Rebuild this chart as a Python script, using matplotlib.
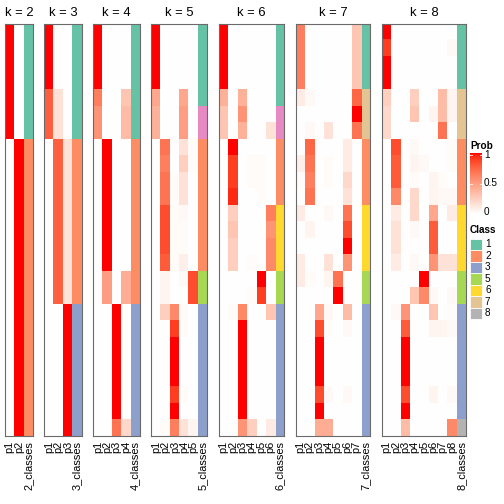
import numpy as np
import matplotlib
matplotlib.use("Agg")
import matplotlib.pyplot as plt
from matplotlib.patches import Rectangle

plt.rcParams['font.family'] = ['Liberation Sans', 'DejaVu Sans']

# ---------------- data ----------------
k_values = [2, 3, 4, 5, 6, 7, 8]

prob_k2 = [[1, 0]] * 7 + [[0, 1]] * 18
class_k2 = [1] * 7 + [2] * 18

prob_k3 = ([[1, 0, 0]] * 4 + [[0.78, 0.15, 0]] * 3 +
           [[0, 0.78, 0.15]] * 10 + [[0, 0, 1]] * 8)
class_k3 = [1] * 7 + [2] * 10 + [3] * 8

prob_k4 = ([[1, 0, 0, 0]] * 4 + [[0.65, 0, 0, 0.3]] + [[0.55, 0, 0, 0.35]] * 2 +
           [[0, 1, 0, 0]] * 8 + [[0, 0.5, 0, 0.42]] * 2 +
           [[0, 0, 1, 0]] * 7 + [[0, 0, 0.7, 0.2]])
class_k4 = [1] * 7 + [2] * 10 + [3] * 8

prob_k5 = [
    [1, 0, 0, 0, 0], [1, 0, 0, 0, 0], [1, 0, 0, 0, 0], [1, 0, 0, 0, 0],
    [0.45, 0, 0, 0.45, 0], [0.4, 0, 0, 0.5, 0], [0.4, 0, 0, 0.5, 0],
    [0, 0.7, 0, 0.15, 0.02], [0, 0.65, 0, 0.25, 0.02], [0, 0.7, 0.02, 0.15, 0],
    [0, 0.7, 0.02, 0.15, 0], [0, 0.85, 0.02, 0.03, 0], [0, 0.85, 0.02, 0.02, 0],
    [0, 0.85, 0.02, 0.02, 0], [0, 0.8, 0.02, 0.08, 0],
    [0, 0.05, 0, 0.03, 0.85], [0, 0.05, 0, 0, 0.85],
    [0, 0.25, 0.6, 0.02, 0], [0, 0, 0.9, 0.02, 0], [0, 0, 1, 0, 0],
    [0, 0, 1, 0, 0], [0, 0, 1, 0, 0], [0, 0, 0.9, 0.02, 0], [0, 0, 1, 0, 0],
    [0, 0.02, 0.65, 0.15, 0.05],
]
class_k5 = [1] * 5 + [4] * 2 + [2] * 8 + [5] * 2 + [3] * 8

prob_k6 = [
    [1, 0, 0, 0, 0, 0], [1, 0, 0, 0, 0, 0], [1, 0, 0, 0, 0, 0], [1, 0, 0, 0, 0, 0],
    [0.4, 0, 0.4, 0, 0, 0], [0.3, 0, 0.55, 0, 0, 0], [0.3, 0, 0.4, 0, 0, 0.15],
    [0, 1, 0, 0, 0, 0], [0, 0.9, 0, 0.02, 0.02, 0], [0, 0.9, 0, 0.02, 0.02, 0],
    [0, 0.95, 0, 0, 0.02, 0],
    [0, 0.25, 0, 0, 0, 0.65], [0, 0.3, 0, 0, 0, 0.55], [0, 0.25, 0, 0, 0, 0.6],
    [0, 0.25, 0, 0.02, 0, 0.6],
    [0, 0, 0, 0, 1, 0], [0, 0, 0, 0.02, 0.9, 0],
    [0, 0.02, 0.6, 0, 0, 0.3], [0, 0, 1, 0, 0, 0], [0, 0, 1, 0, 0, 0],
    [0, 0, 1, 0, 0, 0], [0, 0, 1, 0, 0, 0], [0, 0, 1, 0, 0, 0], [0, 0, 1, 0, 0, 0],
    [0, 0, 0.55, 0.25, 0, 0.1],
]
class_k6 = [1] * 5 + [4] * 2 + [2] * 4 + [6] * 4 + [5] * 2 + [3] * 8

prob_k7 = [
    [0.65, 0, 0, 0, 0, 0, 0.3], [0.65, 0, 0, 0, 0, 0, 0.3],
    [0.65, 0, 0, 0, 0, 0, 0.3], [0.65, 0, 0, 0, 0, 0, 0.3],
    [0.1, 0.03, 0, 0, 0, 0, 0.75], [0, 0, 0, 0, 0, 0, 1], [0, 0.03, 0, 0.15, 0, 0, 0.7],
    [0, 0.75, 0, 0, 0, 0.1, 0], [0.08, 0.7, 0, 0.02, 0, 0.1, 0],
    [0.02, 0.65, 0, 0.02, 0, 0.2, 0], [0, 0.7, 0, 0, 0, 0.15, 0],
    [0.1, 0, 0, 0.03, 0, 0.7, 0], [0, 0.05, 0, 0, 0, 0.85, 0],
    [0, 0, 0, 0, 0, 1, 0], [0.1, 0, 0, 0.15, 0, 0.55, 0],
    [0.1, 0.02, 0, 0.05, 0.7, 0, 0], [0, 0, 0, 0, 1, 0, 0],
    [0, 0, 0.45, 0.03, 0, 0.35, 0], [0, 0, 0.85, 0.02, 0, 0.03, 0],
    [0, 0, 1, 0, 0, 0, 0], [0, 0, 1, 0, 0, 0, 0], [0, 0, 1, 0, 0, 0, 0],
    [0, 0, 0.85, 0.03, 0, 0.03, 0], [0, 0, 1, 0, 0, 0, 0],
    [0, 0, 0.42, 0.42, 0, 0, 0],
]
class_k7 = [1] * 4 + [7] * 3 + [2] * 4 + [6] * 4 + [5] * 2 + [3] * 8

prob_k8 = [
    [1, 0, 0, 0, 0, 0, 0, 0], [0.9, 0, 0, 0, 0, 0, 0, 0.03],
    [1, 0, 0, 0, 0, 0, 0, 0], [1, 0, 0, 0, 0, 0, 0, 0],
    [0.25, 0, 0, 0.25, 0, 0, 0.35, 0.05], [0.2, 0, 0, 0.3, 0, 0.05, 0.35, 0.05],
    [0.2, 0, 0, 0, 0, 0, 0.7, 0],
    [0, 0.85, 0, 0.03, 0, 0, 0, 0.02], [0, 0.8, 0, 0.05, 0.03, 0, 0, 0.02],
    [0, 0.8, 0, 0.02, 0, 0.05, 0.02, 0], [0, 0.6, 0, 0.2, 0, 0.05, 0.03, 0.03],
    [0, 0.1, 0, 0.2, 0, 0.45, 0, 0.1], [0, 0.15, 0, 0.03, 0, 0.8, 0, 0],
    [0, 0.15, 0, 0, 0, 0.8, 0, 0], [0, 0.1, 0, 0.03, 0, 0.55, 0.15, 0.15],
    [0, 0, 0, 0, 1, 0, 0, 0], [0, 0, 0, 0.3, 0.6, 0.03, 0, 0.03],
    [0, 0.03, 0.55, 0, 0, 0.3, 0, 0.02], [0, 0, 0.8, 0, 0, 0.05, 0.05, 0.03],
    [0, 0, 1, 0, 0, 0, 0, 0], [0, 0, 1, 0, 0, 0, 0, 0], [0, 0, 1, 0, 0, 0, 0, 0],
    [0, 0, 0.85, 0, 0, 0.05, 0, 0.03], [0, 0, 1, 0, 0, 0, 0, 0],
    [0, 0, 0.35, 0, 0, 0, 0, 0.6],
]
class_k8 = [1] * 4 + [7] * 3 + [2] * 4 + [6] * 4 + [5] * 2 + [3] * 7 + [8]

prob_all = {2: prob_k2, 3: prob_k3, 4: prob_k4, 5: prob_k5, 6: prob_k6, 7: prob_k7, 8: prob_k8}
class_all = {2: class_k2, 3: class_k3, 4: class_k4, 5: class_k5, 6: class_k6, 7: class_k7, 8: class_k8}

class_colors = {1: '#66C2A5', 2: '#FC8D62', 3: '#8DA0CB', 4: '#E78AC3',
                5: '#A6D854', 6: '#FFD92F', 7: '#E5C494', 8: '#B3B3B3'}
legend_classes = [1, 2, 3, 5, 6, 7, 8]
legend_prob_ticks = [0, 0.5, 1]

# ---------------- colour map: white -> red, interpolated in LAB ----------------
def srgb_to_lin(c):
    c = np.asarray(c, float)
    return np.where(c <= 0.04045, c / 12.92, ((c + 0.055) / 1.055) ** 2.4)

def lin_to_srgb(c):
    c = np.clip(c, 0, 1)
    return np.where(c <= 0.0031308, 12.92 * c, 1.055 * c ** (1 / 2.4) - 0.055)

M = np.array([[0.4124, 0.3576, 0.1805], [0.2126, 0.7152, 0.0722], [0.0193, 0.1192, 0.9505]])
Minv = np.linalg.inv(M)
wp = np.array([0.95047, 1.0, 1.08883])

def rgb_to_lab(rgb):
    xyz = M @ srgb_to_lin(rgb) / wp
    f = np.where(xyz > 0.008856, np.cbrt(xyz), 7.787 * xyz + 16 / 116)
    return np.array([116 * f[1] - 16, 500 * (f[0] - f[1]), 200 * (f[1] - f[2])])

def lab_to_rgb(lab):
    L, a, b = lab
    fy = (L + 16) / 116
    fx = fy + a / 500
    fz = fy - b / 200
    f = np.array([fx, fy, fz])
    xyz = np.where(f ** 3 > 0.008856, f ** 3, (f - 16 / 116) / 7.787) * wp
    return lin_to_srgb(Minv @ xyz)

lab_w = rgb_to_lab([1, 1, 1])
lab_r = rgb_to_lab([1, 0, 0])

def prob_color(v):
    return lab_to_rgb(lab_w + (lab_r - lab_w) * v)

# ---------------- figure ----------------
W = H = 504
fig = plt.figure(figsize=(7, 7), dpi=72)

def ax_px(x, y, w, h):
    return fig.add_axes([x / W, 1 - (y + h) / H, w / W, h / H])

colw = 9.33
gap = 11.5
top, bottom = 23.5, 435.7
x = 5.0
for k in k_values:
    probs = np.array(prob_all[k], float)
    classes = class_all[k]
    n = probs.shape[0]
    img = np.zeros((n, k + 1, 3))
    for i in range(n):
        for j in range(k):
            img[i, j] = prob_color(probs[i, j])
        img[i, k] = matplotlib.colors.to_rgb(class_colors[classes[i]])
    w = colw * (k + 1)
    ax = ax_px(x, top, w, bottom - top)
    ax.imshow(img, aspect='auto', interpolation='nearest',
              extent=(0, k + 1, n, 0))
    ax.set_xlim(0, k + 1)
    ax.set_ylim(n, 0)
    ax.set_yticks([])
    ax.set_xticks(np.arange(k + 1) + 0.5)
    ax.set_xticklabels([f'p{j+1}' for j in range(k)] + [f'{k}_classes'],
                       rotation=90, fontsize=11)
    ax.tick_params(axis='x', length=0, pad=5)
    for s in ax.spines.values():
        s.set_color('#6a6a6a')
        s.set_linewidth(1.1)
    ax.set_title(f'k = {k}', fontsize=13, pad=8)
    x += w + gap

# Legend: Prob colour bar
fig.text(470 / W, 1 - 146 / H, 'Prob', fontsize=10, fontweight='bold', va='center', ha='left')
cb_top, cb_bot = 153, 214
cax = ax_px(470, cb_top, 12, cb_bot - cb_top)
grad = np.linspace(1, 0, 100)
cimg = np.array([[prob_color(v)] for v in grad])
cax.imshow(cimg, aspect='auto', extent=(0, 1, 0, 1), interpolation='bilinear')
cax.set_xlim(0, 1)
cax.set_ylim(0, 1)
cax.set_xticks([])
cax.set_yticks([])
for s in cax.spines.values():
    s.set_visible(False)
for t in legend_prob_ticks:
    yy = 0.04 + 0.92 * t
    cax.plot([0, 0.2], [yy, yy], color='white', lw=0.8)
    cax.plot([0.8, 1], [yy, yy], color='white', lw=0.8)
    fig.text(484 / W, 1 - (cb_bot - (cb_bot - cb_top) * (0.04 + 0.92 * t)) / H,
             f'{t:g}', fontsize=10, va='center', ha='left')

# Legend: Class
fig.text(470 / W, 1 - 230 / H, 'Class', fontsize=10, fontweight='bold', va='center', ha='left')
sq_top = 238.5
sq_h = 11.5
for i, c in enumerate(legend_classes):
    y0 = sq_top + i * sq_h
    fig.patches.append(Rectangle((470 / W, 1 - (y0 + sq_h) / H), 12 / W, sq_h / H,
                                 transform=fig.transFigure, facecolor=class_colors[c],
                                 edgecolor='white', linewidth=0.8))
    fig.text(485 / W, 1 - (y0 + sq_h / 2) / H, str(c), fontsize=10, va='center', ha='left')

fig.savefig('out.png', dpi=72)
